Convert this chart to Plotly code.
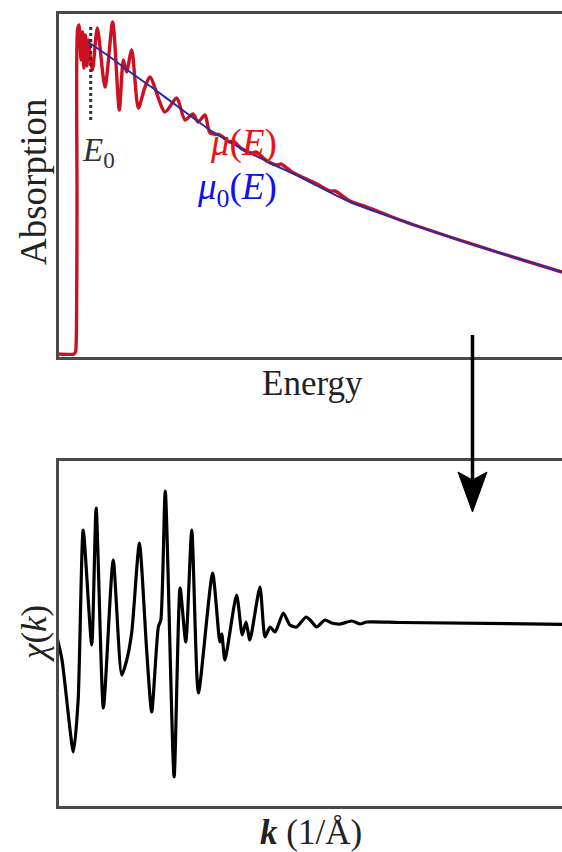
import plotly.graph_objects as go

# ---- XANES / EXAFS absorption spectrum (top panel) ----
energy_mu = [0, 34, 37, 39, 40, 41, 44, 48, 51, 54, 57, 60, 63, 66, 71, 80.6, 96, 111.4,
             124.6, 132.6, 139, 149.4, 162.6, 176, 186, 216, 239.4, 256, 272, 282, 296,
             306, 326, 345, 352, 370, 390, 398, 420, 440, 448, 470, 490, 520, 546, 556,
             586, 620, 686, 786, 886, 1010]
mu = [0.04, 0.04, 0.06, 0.30, 1.58, 3.28, 3.33, 2.98, 3.26, 2.90, 3.23, 2.92, 3.18, 3.03,
      2.88, 3.30, 2.71, 3.36, 2.48, 2.98, 2.86, 3.08, 2.50, 2.71, 2.81, 2.46, 2.60,
      2.38, 2.44, 2.36, 2.43, 2.25, 2.23, 2.16, 2.17, 2.09, 2.05, 2.06, 1.97, 1.93,
      1.94, 1.86, 1.81, 1.74, 1.67, 1.67, 1.57, 1.51, 1.38, 1.21, 1.05, 0.86]

# smooth post-edge background mu0(E)
energy_mu0 = [62, 106, 146, 186, 232, 306, 360, 426, 486, 586, 686, 786, 886, 1010]
mu0 = [3.16, 3.01, 2.86, 2.72, 2.55, 2.28, 2.12, 1.95, 1.81, 1.56, 1.38, 1.21, 1.05, 0.86]

# edge position E0
e0_energy = [67.4, 67.4]
e0_mu = [3.31, 2.38]

# ---- extracted EXAFS oscillations chi(k) (bottom panel) ----
k = [0, 0.16, 0.52, 0.67, 0.83, 1.10, 1.24, 1.47, 1.78, 2.05, 2.21, 2.37, 2.61, 2.84,
     3.00, 3.21, 3.29, 3.43, 3.71, 3.90, 4.08, 4.27, 4.48, 4.93, 5.16, 5.22, 5.32,
     5.69, 5.87, 5.99, 6.11, 6.43, 6.59, 6.75, 6.91, 7.17, 7.38, 7.59, 7.89, 8.02,
     8.23, 8.49, 8.70, 8.97, 9.34, 9.60, 9.82, 10.87, 16.0]
chi = [-0.14, -0.37, -1.29, -0.77, 0.93, -0.22, 1.15, -0.85, 0.63, -0.52, -0.37,
       -0.09, 0.80, -0.27, -0.89, -0.04, 0.03, 1.32, -1.54, 0.35, -0.19, 0.93, -0.70,
       0.50, -0.19, -0.11, -0.37, 0.28, -0.12, 0.01, -0.17, 0.36, -0.14, -0.04, -0.09,
       0.10, -0.02, -0.04, 0.06, 0.03, -0.04, 0.03, 0.00, -0.01, 0.02, -0.01, 0.01,
       0.005, -0.013]

W, H = 562, 852
SERIF = "Liberation Serif, Times New Roman, serif"
FRAME = "#4a4a4a"
TEXT = "#222222"


def px(x):
    return x / W


def py(y):
    return 1 - y / H


fig = go.Figure()

fig.add_trace(go.Scatter(x=energy_mu, y=mu, mode="lines",
                         line=dict(color="#cc1122", width=3.4, shape="spline", smoothing=0.7),
                         xaxis="x", yaxis="y", showlegend=False))
fig.add_trace(go.Scatter(x=energy_mu0, y=mu0, mode="lines",
                         line=dict(color="#2b2b9e", width=2, shape="spline", smoothing=0.8),
                         xaxis="x", yaxis="y", showlegend=False))
fig.add_trace(go.Scatter(x=e0_energy, y=e0_mu, mode="lines",
                         line=dict(color="#333333", width=3, dash="dot"),
                         xaxis="x", yaxis="y", showlegend=False))
fig.add_trace(go.Scatter(x=k, y=chi, mode="lines",
                         line=dict(color="black", width=3.2, shape="spline", smoothing=0.6),
                         xaxis="x2", yaxis="y2", showlegend=False))

ax_common = dict(showgrid=False, zeroline=False, showticklabels=False, ticks="",
                 showline=True, linecolor=FRAME, linewidth=3)

fig.update_layout(
    width=W, height=H,
    margin=dict(l=0, r=0, t=0, b=0),
    paper_bgcolor="white", plot_bgcolor="white",
    xaxis=dict(domain=[px(58.5), 1], range=[3, 1010], anchor="y", mirror=True, **ax_common),
    yaxis=dict(domain=[py(356.5), py(13.5)], range=[0.015, 3.445], anchor="x", **ax_common),
    xaxis2=dict(domain=[px(58.5), 1], range=[0.0475, 16], anchor="y2", mirror=True, **ax_common),
    yaxis2=dict(domain=[py(805.5), py(460.5)], range=[-1.825, 1.625], anchor="x2", **ax_common),
)

# in-plot labels
fig.add_annotation(x=82, y=2.06, xref="x", yref="y", showarrow=False,
                   text="<i>E</i><sub>0</sub>", font=dict(family=SERIF, size=33, color="#333333"))
fig.add_annotation(x=372, y=2.15, xref="x", yref="y", showarrow=False,
                   text="<i>μ</i>(<i>E</i>)", font=dict(family=SERIF, size=37, color="#ee1111"))
fig.add_annotation(x=360, y=1.69, xref="x", yref="y", showarrow=False,
                   text="<i>μ</i><sub>0</sub>(<i>E</i>)", font=dict(family=SERIF, size=37, color="#1111ee"))

# axis titles
title_font = dict(family=SERIF, size=35, color=TEXT)
fig.add_annotation(x=px(34), y=py(182), xref="paper", yref="paper", showarrow=False,
                   xanchor="center", yanchor="middle",
                   text="Absorption", textangle=-90,
                   font=dict(family=SERIF, size=37, color=TEXT))
fig.add_annotation(x=px(312), y=py(383), xref="paper", yref="paper", showarrow=False,
                   xanchor="center", yanchor="middle",
                   text="Energy", font=title_font)
fig.add_annotation(x=px(34), y=py(634), xref="paper", yref="paper", showarrow=False,
                   xanchor="center", yanchor="middle",
                   text="<i>χ</i>(<i>k</i>)", textangle=-90, font=title_font)
fig.add_annotation(x=px(311), y=py(832), xref="paper", yref="paper", showarrow=False,
                   xanchor="center", yanchor="middle",
                   text="<b><i>k</i></b> (1/Å)", font=title_font)

# arrow linking the two panels
fig.add_shape(type="line", xref="paper", yref="paper",
              x0=px(472.5), y0=py(335), x1=px(472.5), y1=py(482),
              line=dict(color="black", width=3.5), layer="above")
fig.add_shape(type="path", xref="paper", yref="paper", layer="above",
              path=(f"M {px(458)} {py(472)} L {px(472.5)} {py(512)} L {px(487)} {py(472)} "
                    f"L {px(472.5)} {py(480)} Z"),
              fillcolor="black", line=dict(color="black", width=1))

fig.write_html("out.html")
